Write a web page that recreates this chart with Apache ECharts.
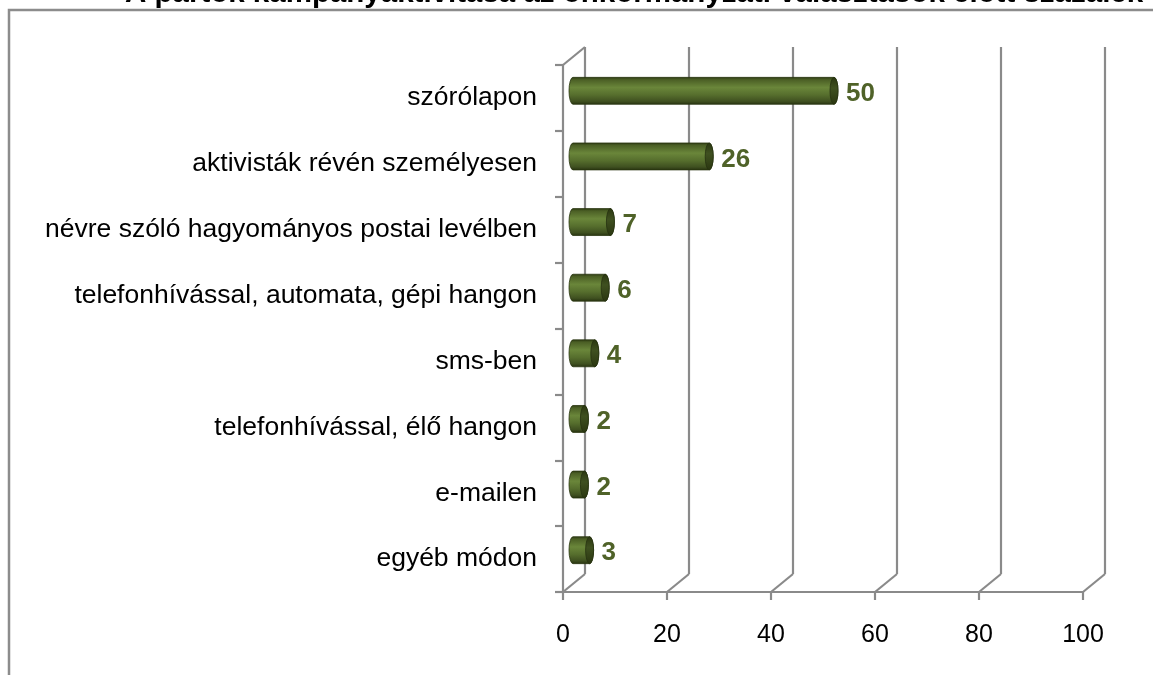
<!DOCTYPE html>
<html>
<head>
<meta charset="utf-8">
<script src="https://cdn.jsdelivr.net/npm/echarts@6/dist/echarts.min.js"></script>
<style>
html,body{margin:0;padding:0;background:#fff;}
#main{width:1153px;height:675px;}
</style>
</head>
<body>
<div id="main"></div>
<script>
// ---- data ----
const titleText = 'A pártok kampányaktivitása az önkormányzati választások előtt százalék';
const categories = [
  'szórólapon',
  'aktivisták révén személyesen',
  'névre szóló hagyományos postai levélben',
  'telefonhívással, automata, gépi hangon',
  'sms-ben',
  'telefonhívással, élő hangon',
  'e-mailen',
  'egyéb módon'
];
const values = [50, 26, 7, 6, 4, 2, 2, 3];
const xTicks = [0, 20, 40, 60, 80, 100];

// ---- styles ----
const FONT = '"Liberation Sans", Arial, sans-serif';
const GRID_COLOR = '#8a8a8a';
const DX = 22, DY = 18;   // 3D depth offset of the back wall
const CAP = 9;            // rounded cylinder ends overrun
const LABEL_COLOR = '#4f6228';

const chart = echarts.init(document.getElementById('main'), null, {renderer: 'canvas'});

function framePiece(params, api) {
  const v = api.value(0);
  const cs = params.coordSys;
  const p = api.coord([v, 0]);
  const bottom = cs.y + cs.height;
  const children = [{
    type: 'line',
    shape: {x1: p[0], y1: bottom, x2: p[0] + DX, y2: bottom - DY},
    style: {stroke: GRID_COLOR, lineWidth: 2.2}
  }];
  if (v === 0) {
    children.push({
      type: 'line',
      shape: {x1: cs.x, y1: cs.y, x2: cs.x + DX, y2: cs.y - DY},
      style: {stroke: GRID_COLOR, lineWidth: 2.2}
    });
  }
  return {type: 'group', children: children};
}

function cylinder(params, api) {
  const v = api.value(0);
  const idx = api.value(1);
  const start = api.coord([0, idx]);
  const end = api.coord([v, idx]);
  const band = api.size([0, 1])[1];
  const h = band * 0.41;
  const cy = end[1];
  const top = cy - h / 2, bot = cy + h / 2;
  const ry = h / 2;
  const rx = 4;
  const x0 = start[0];
  const x1 = end[0] + CAP;
  const body = 'M' + (x0 + rx) + ',' + top +
    ' L' + (x1 - rx) + ',' + top +
    ' A' + rx + ',' + ry + ' 0 0 1 ' + (x1 - rx) + ',' + bot +
    ' L' + (x0 + rx) + ',' + bot +
    ' A' + rx + ',' + ry + ' 0 0 1 ' + (x0 + rx) + ',' + top + ' Z';
  const cx = x1 - rx;
  const cap = 'M' + cx + ',' + top +
    ' A' + rx + ',' + ry + ' 0 1 1 ' + cx + ',' + bot +
    ' A' + rx + ',' + ry + ' 0 1 1 ' + cx + ',' + top + ' Z';
  return {
    type: 'group',
    children: [
      {
        type: 'path',
        shape: {pathData: body},
        style: {
          fill: {
            type: 'linear', x: 0, y: 0, x2: 0, y2: 1,
            colorStops: [
              {offset: 0, color: '#2c3912'},
              {offset: 0.1, color: '#4b5f25'},
              {offset: 0.38, color: '#6a863a'},
              {offset: 0.65, color: '#566e2d'},
              {offset: 0.88, color: '#3f5020'},
              {offset: 1, color: '#26310f'}
            ]
          },
          stroke: '#2a3610', lineWidth: 0.8
        }
      },
      {
        type: 'path',
        shape: {pathData: cap},
        style: {
          fill: {
            type: 'linear', x: 0, y: 0, x2: 0, y2: 1,
            colorStops: [
              {offset: 0, color: '#2a3610'},
              {offset: 0.4, color: '#3f5020'},
              {offset: 1, color: '#2a3610'}
            ]
          },
          stroke: '#263110', lineWidth: 0.8
        }
      },
      {
        type: 'text',
        style: {
          x: x1 + 8, y: cy + 3,
          text: String(v),
          fill: LABEL_COLOR,
          font: 'bold 26px ' + FONT,
          verticalAlign: 'middle', align: 'left'
        }
      }
    ]
  };
}

const option = {
  backgroundColor: '#fff',
  animation: false,
  title: {
    text: titleText,
    left: 120, top: -26,
    textStyle: {fontFamily: FONT, fontSize: 29.5, fontWeight: 'bold', color: '#000'}
  },
  graphic: [{
    type: 'rect',
    shape: {x: 9, y: 10, width: 1300, height: 800},
    style: {fill: 'none', stroke: '#8c8c8c', lineWidth: 2.5},
    z: -1
  }],
  grid: [
    {left: 585, right: 48, top: 47, bottom: 101},
    {left: 563, right: 70, top: 65, bottom: 83},
    {left: 569, right: 64, top: 58, bottom: 92}
  ],
  xAxis: [
    {
      gridIndex: 0, type: 'value', min: 0, max: 100, interval: 20,
      axisLine: {show: false}, axisTick: {show: false}, axisLabel: {show: false},
      splitLine: {show: true, lineStyle: {color: GRID_COLOR, width: 2.2}}
    },
    {
      gridIndex: 1, type: 'value', min: 0, max: 100, interval: 20,
      axisLine: {show: true, lineStyle: {color: GRID_COLOR, width: 2.2}},
      axisTick: {show: true, length: 8, lineStyle: {color: GRID_COLOR, width: 2.2}},
      axisLabel: {show: true, margin: 31, fontSize: 25, fontFamily: FONT, color: '#000'},
      splitLine: {show: false}
    },
    {
      gridIndex: 2, type: 'value', min: 0, max: 100, show: false
    }
  ],
  yAxis: [
    {gridIndex: 0, type: 'value', show: false},
    {
      gridIndex: 1, type: 'category', data: categories, inverse: true,
      axisLine: {show: true, lineStyle: {color: GRID_COLOR, width: 2.2}},
      axisTick: {show: true, length: 8, lineStyle: {color: GRID_COLOR, width: 2.2}},
      axisLabel: {show: true, margin: 26, fontSize: 26.5, fontFamily: FONT, color: '#000', padding: [4, 0, 0, 0]},
      splitLine: {show: false}
    },
    {gridIndex: 2, type: 'category', data: categories, inverse: true, show: false}
  ],
  series: [
    {
      type: 'custom', xAxisIndex: 1, yAxisIndex: 1,
      data: xTicks.map(function (t) { return [t, 0]; }),
      renderItem: framePiece, silent: true, z: 1
    },
    {
      type: 'custom', xAxisIndex: 2, yAxisIndex: 2,
      data: values.map(function (v, i) { return [v, i]; }),
      renderItem: cylinder, z: 5
    }
  ]
};
chart.setOption(option);
</script>
</body>
</html>
